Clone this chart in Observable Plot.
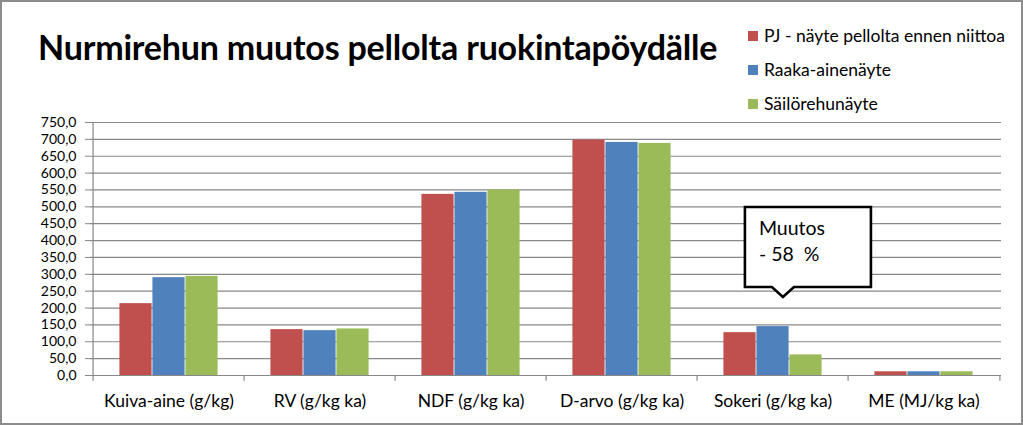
<!DOCTYPE html>
<html><head><meta charset="utf-8">
<script src="https://cdn.jsdelivr.net/npm/d3@7"></script>
<script src="https://cdn.jsdelivr.net/npm/@observablehq/plot@0.6"></script>
<style>
html,body{margin:0;padding:0;background:#fff;}
#wrap{position:relative;width:1023px;height:425px;overflow:hidden;font-family:Lato,"Open Sans",sans-serif;color:#000;}
#frame{position:absolute;left:0;top:0;width:1023px;height:425px;box-sizing:border-box;border:2px solid #8c8c8c;pointer-events:none;}
#header{position:relative;height:112px;}
#title{position:absolute;left:38px;top:26px;font-size:34px;font-weight:bold;white-space:nowrap;letter-spacing:-0.2px;}
.leg{position:absolute;left:748px;font-size:17.5px;white-space:nowrap;line-height:22px;}
.leg span{display:inline-block;width:10px;height:10px;margin-right:6px;vertical-align:1px;}
#chart svg{display:block;}
</style></head>
<body><div id="wrap">
<div id="header"><div id="title"></div></div>
<div id="chart"></div>
<div id="frame"></div>
</div>
<script>
const categories = ["Kuiva-aine (g/kg)", "RV (g/kg ka)", "NDF (g/kg ka)", "D-arvo (g/kg ka)", "Sokeri (g/kg ka)", "ME (MJ/kg ka)"];
const seriesNames = ["PJ - näyte pellolta ennen niittoa", "Raaka-ainenäyte", "Säilörehunäyte"];
const seriesColors = ["#C0504D", "#4F81BD", "#9BBB59"];
const pjValues = [213, 136, 537, 698, 127, 11];
const raakaValues = [290, 133, 543, 691, 145, 11];
const sailoValues = [294, 138, 550, 688, 61, 11];
const yTicks = [0, 50, 100, 150, 200, 250, 300, 350, 400, 450, 500, 550, 600, 650, 700, 750];
const titleText = "Nurmirehun muutos pellolta ruokintapöydälle";
const calloutLines = ["Muutos", "- 58  %"];
const calloutCategory = "Sokeri (g/kg ka)";

document.getElementById("title").textContent = titleText;
const header = document.getElementById("header");
seriesNames.forEach((n, i) => {
  const d = document.createElement("div");
  d.className = "leg";
  d.style.top = (25 + i * 34) + "px";
  d.innerHTML = `<span style="background:${seriesColors[i]}"></span>`;
  d.appendChild(document.createTextNode(n));
  header.appendChild(d);
});

const allSeries = [pjValues, raakaValues, sailoValues];
const rows = [];
allSeries.forEach((vals, s) => categories.forEach((c, i) => rows.push({category: c, series: seriesNames[s], value: vals[i]})));

const W = 1023, H = 313, mL = 90, mR = 22, mT = 10, mB = 50;
const bw = (W - mL - mR) / categories.length;
const barW = 33;
const gap = (bw - 3 * barW) / 2;
const fmt = d => d.toFixed(1).replace(".", ",");

function callout(...args) {
  const scales = args.find(a => a && typeof a.x === "function" && typeof a.y === "function");
  const cx = scales.x(calloutCategory) + bw / 2;
  const px = cx + 10;
  const left = cx - 28, right = cx + 98;
  const top = scales.y(498), bottom = scales.y(261), tip = scales.y(231);
  const g = d3.create("svg:g");
  const path = `M${left},${top}H${right}V${bottom}H${px + 11}L${px},${tip}L${px - 11},${bottom}H${left}Z`;
  g.append("path").attr("d", path).attr("fill", "#fff").attr("stroke", "#000").attr("stroke-width", 2.6).attr("stroke-linejoin", "miter");
  calloutLines.forEach((t, i) => {
    g.append("text").attr("x", left + 14).attr("y", top + 28 + i * 26)
      .attr("text-anchor", "start")
      .attr("font-size", 19.5).attr("font-family", "Lato, 'Open Sans', sans-serif").attr("fill", "#000").text(t);
  });
  return g.node();
}

const plot = Plot.plot({
  width: W, height: H,
  marginLeft: mL, marginRight: mR, marginTop: mT, marginBottom: mB,
  style: {fontFamily: "Lato, 'Open Sans', sans-serif", fontSize: "15px", color: "#000", background: "transparent"},
  x: {domain: categories, padding: 0, axis: null},
  y: {domain: [0, 750], axis: null},
  marks: [
    Plot.gridY(yTicks, {stroke: "#888", strokeOpacity: 1, strokeWidth: 1.2}),
    ...seriesNames.map((s, i) => Plot.barY(rows.filter(r => r.series === s), {
      x: "category", y: "value", fill: seriesColors[i],
      insetLeft: gap + i * barW, insetRight: bw - gap - (i + 1) * barW
    })),
    Plot.ruleY([0], {stroke: "#888", strokeWidth: 1.2}),
    Plot.ruleX([categories[0]], {x: d => d, dx: -bw / 2, y1: -17, y2: 750, stroke: "#888", strokeWidth: 1.2}),
    Plot.ruleX(categories.slice(1), {x: d => d, dx: -bw / 2, y1: -17, y2: 0, stroke: "#888", strokeWidth: 1.2}),
    Plot.ruleX([categories[categories.length - 1]], {x: d => d, dx: bw / 2, y1: -17, y2: 0, stroke: "#888", strokeWidth: 1.2}),
    Plot.axisY(yTicks, {tickFormat: fmt, tickSize: 5, tickPadding: 9, stroke: "#888", fontSize: 14, label: null, style: {letterSpacing: "1.3px"}}),
    Plot.axisX({tickSize: 0, tickPadding: 19, fontSize: 17.5, label: null}),
    callout
  ]
});
document.getElementById("chart").appendChild(plot);
</script>
</body></html>
